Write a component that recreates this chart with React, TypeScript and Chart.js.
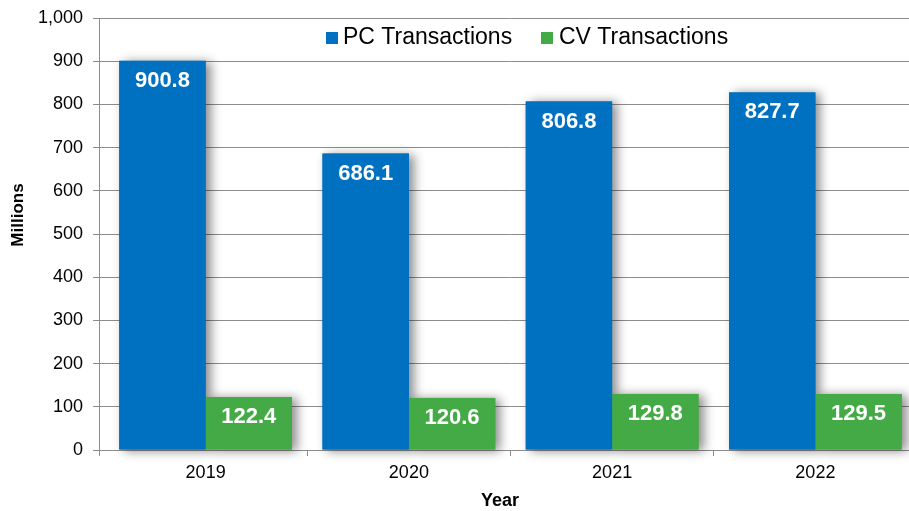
import React, { useEffect, useRef } from "react";
import { Chart, registerables } from "chart.js";

Chart.register(...registerables);

const categories = ["2019", "2020", "2021", "2022"];
const pcValues = [900.8, 686.1, 806.8, 827.7];
const cvValues = [122.4, 120.6, 129.8, 129.5];
const seriesNames = ["PC Transactions", "CV Transactions"];
const seriesColors = ["#0070C0", "#44AA46"];
const yMin = 0;
const yMax = 1000;
const yStep = 100;
const yTitle = "Millions";
const xTitle = "Year";

const FONT = "'Liberation Sans', Arial, sans-serif";
const GRID = "#8c8c8c";

const decor = {
  id: "decor",
  beforeDatasetsDraw(chart: any) {
    const ctx = chart.ctx;
    chart.data.datasets.forEach((ds: any, i: number) => {
      const meta = chart.getDatasetMeta(i);
      meta.data.forEach((bar: any) => {
        const p = bar.getProps(["x", "y", "base", "width"], true);
        ctx.save();
        ctx.shadowColor = "rgba(0,0,0,0.45)";
        ctx.shadowBlur = 10;
        ctx.shadowOffsetX = 5;
        ctx.shadowOffsetY = 1;
        ctx.fillStyle = ds.backgroundColor;
        ctx.fillRect(p.x - p.width / 2, p.y, p.width, p.base - p.y);
        ctx.restore();
      });
    });
  },
  afterDatasetsDraw(chart: any) {
    const ctx = chart.ctx;
    ctx.save();
    ctx.fillStyle = "#ffffff";
    ctx.font = `bold 22px ${FONT}`;
    ctx.textAlign = "center";
    ctx.textBaseline = "middle";
    chart.data.datasets.forEach((ds: any, i: number) => {
      const meta = chart.getDatasetMeta(i);
      meta.data.forEach((bar: any, j: number) => {
        const v = ds.data[j];
        ctx.fillText(v.toFixed(1), bar.x, bar.y + 20);
      });
    });
    ctx.restore();
  },
  afterDraw(chart: any) {
    const ctx = chart.ctx;
    const area = chart.chartArea;
    ctx.save();
    // y axis line
    ctx.strokeStyle = GRID;
    ctx.lineWidth = 1;
    ctx.beginPath();
    ctx.moveTo(99.5, area.top);
    ctx.lineTo(99.5, area.bottom + 6);
    ctx.stroke();
    // legend
    ctx.font = `23px ${FONT}`;
    ctx.textBaseline = "middle";
    ctx.textAlign = "left";
    const items = [
      { box: 326, text: 343 },
      { box: 541, text: 559 },
    ];
    items.forEach((it, i) => {
      ctx.fillStyle = seriesColors[i];
      ctx.fillRect(it.box, 32, 12, 12);
      ctx.fillStyle = "#000000";
      ctx.fillText(seriesNames[i], it.text, 38);
    });
    // axis titles
    ctx.font = `bold 17px ${FONT}`;
    ctx.textAlign = "center";
    ctx.save();
    ctx.translate(18, 215);
    ctx.rotate(-Math.PI / 2);
    ctx.fillText(yTitle, 0, 0);
    ctx.restore();
    ctx.font = `bold 18px ${FONT}`;
    ctx.fillText(xTitle, 500, 501);
    ctx.restore();
  },
};

export default function App() {
  const ref = useRef<HTMLCanvasElement>(null);
  useEffect(() => {
    document.body.style.margin = "0";
    const chart = new Chart(ref.current!, {
      type: "bar",
      data: {
        labels: categories,
        datasets: [
          { label: seriesNames[0], data: pcValues, backgroundColor: seriesColors[0], borderWidth: 0 },
          { label: seriesNames[1], data: cvValues, backgroundColor: seriesColors[1], borderWidth: 0 },
        ],
      },
      options: {
        responsive: false,
        animation: false,
        devicePixelRatio: 1,
        layout: { padding: { top: 18, right: 9, left: 0, bottom: 0 } },
        datasets: { bar: { categoryPercentage: 0.85, barPercentage: 1 } },
        plugins: { legend: { display: false }, tooltip: { enabled: false } },
        scales: {
          x: {
            grid: {
              drawOnChartArea: false,
              offset: true,
              tickLength: 6,
              color: GRID,
              tickColor: (c: any) => (c.index === 0 ? "rgba(0,0,0,0)" : GRID),
            },
            border: { color: GRID, width: 1 },
            ticks: { color: "#000", font: { family: FONT, size: 18 }, padding: 6 },
            afterFit: (s: any) => { s.height = 61; s.paddingLeft = 0; s.paddingRight = 0; },
          },
          y: {
            min: yMin,
            max: yMax,
            ticks: { stepSize: yStep, color: "#000", font: { family: FONT, size: 18 }, padding: 10 },
            grid: { color: GRID, tickLength: 11 },
            border: { display: false },
            afterFit: (s: any) => { s.width = 104; s.paddingTop = 0; s.paddingBottom = 0; },
          },
        },
      },
      plugins: [decor],
    });
    return () => chart.destroy();
  }, []);
  return (
    <div style={{ width: 909, height: 511, overflow: "hidden", position: "relative" }}>
      <canvas ref={ref} width={926} height={511} style={{ display: "block" }} />
    </div>
  );
}
